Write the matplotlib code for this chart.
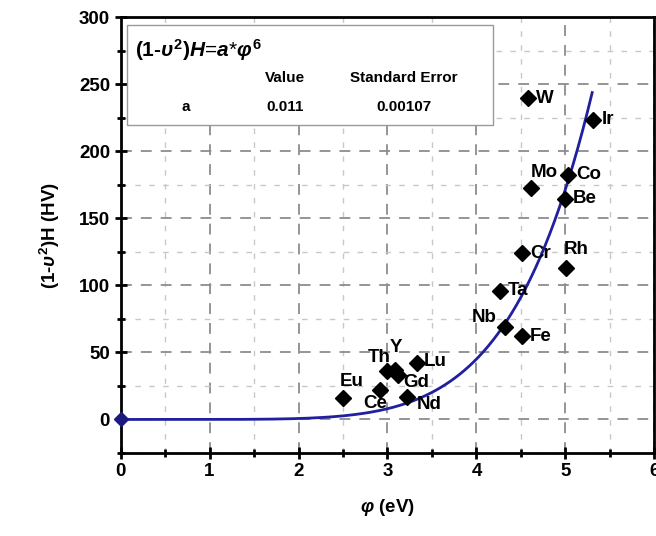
import numpy as np
import matplotlib.pyplot as plt
from matplotlib.ticker import MultipleLocator

plt.rcParams['font.family'] = ['Liberation Sans', 'DejaVu Sans']
plt.rcParams['mathtext.fontset'] = 'custom'
plt.rcParams['mathtext.rm'] = 'Liberation Sans:bold'
plt.rcParams['mathtext.bf'] = 'Liberation Sans:bold'
plt.rcParams['mathtext.it'] = 'Liberation Sans:italic:bold'

# element data: work function (eV) vs (1-v^2)H (HV)
elements = ['W', 'Ir', 'Co', 'Mo', 'Be', 'Cr', 'Rh', 'Ta', 'Nb', 'Fe',
            'Eu', 'Ce', 'Th', 'Y', 'Gd', 'Lu', 'Nd']
phi = [4.58, 5.31, 5.03, 4.61, 4.99, 4.51, 5.01, 4.26, 4.32, 4.51,
       2.50, 2.92, 3.00, 3.08, 3.12, 3.33, 3.22]
hv = [239.5, 223.5, 182.5, 172.5, 164.5, 124, 113, 96, 69, 62,
      16, 22, 36, 37, 33, 42, 17]

# fit parameters
fit_a = 0.011
fit_err = 0.00107
fit_pow = 6
fit_xmax = 5.3

# label offsets in points (dx, dy, ha)
offs = {
    'W': (6, 0, 'left'), 'Ir': (6, 0, 'left'), 'Co': (6, 0, 'left'),
    'Mo': (10, 11, 'center'), 'Be': (6, 0, 'left'), 'Cr': (6, 0, 'left'),
    'Rh': (7, 13, 'center'), 'Ta': (6, 0, 'left'), 'Nb': (-15, 7, 'center'),
    'Fe': (6, 0, 'left'), 'Eu': (6, 12, 'center'), 'Ce': (-4, -10, 'center'),
    'Th': (-6, 10, 'center'), 'Y': (1, 16, 'center'), 'Gd': (13, -5, 'center'),
    'Lu': (5, 1, 'left'), 'Nd': (16, -6, 'center'),
}

fig = plt.figure(figsize=(6.56, 5.36), dpi=100)
ax = fig.add_axes([0.1837, 0.1549, 0.814, 0.8129])

xx = np.linspace(0, fit_xmax, 300)
ax.plot(xx, fit_a * xx ** fit_pow, color='#1f1fa0', lw=2, zorder=3)
ax.plot([0], [0], 'D', color='#1a1a80', ms=7, zorder=4, clip_on=False)

ax.plot(phi, hv, 'D', color='black', ms=8, ls='none', zorder=5)
for name, x, y in zip(elements, phi, hv):
    dx, dy, ha = offs[name]
    ax.annotate(name, (x, y), xytext=(dx, dy), textcoords='offset points',
                ha=ha, va='center', fontsize=13.5, fontweight='bold', zorder=6)

ax.set_xlim(0, 6)
ax.set_ylim(-25, 300)
ax.xaxis.set_major_locator(MultipleLocator(1))
ax.xaxis.set_minor_locator(MultipleLocator(0.5))
ax.yaxis.set_major_locator(MultipleLocator(50))
ax.yaxis.set_minor_locator(MultipleLocator(25))
ax.grid(which='major', color='#8c8c8c', ls=(0, (6, 5)), lw=1.3)
ax.grid(which='minor', color='#c8c8c8', ls=(0, (4, 6)), lw=1)
ax.set_axisbelow(True)

for s in ax.spines.values():
    s.set_linewidth(2)
ax.tick_params(which='major', direction='inout', length=9, width=2,
               labelsize=13.5, pad=3)
ax.tick_params(which='minor', direction='inout', length=6, width=2)
for lab in ax.get_xticklabels() + ax.get_yticklabels():
    lab.set_fontweight('bold')

ax.set_xlabel(r'$\mathit{\varphi}$ (eV)', fontsize=13.5, fontweight='bold', labelpad=12)
ax.set_ylabel(r'(1-$\upsilon^2$)H (HV)', fontsize=13.5, fontweight='bold', labelpad=12)

# fit results box
box = plt.Rectangle((0.012, 0.752), 0.686, 0.23, transform=ax.transAxes,
                    facecolor='white', edgecolor='#999999', lw=1, zorder=7)
ax.add_patch(box)
ax.text(0.027, 0.925, r'$\mathit{(1\text{-}\upsilon^{2})H}$=$\mathit{a}$*$\mathit{\varphi}^6$',
        transform=ax.transAxes, fontsize=15, va='center', zorder=8)
cell = dict(transform=ax.transAxes, fontsize=11, fontweight='bold',
            ha='center', va='center', zorder=8)
ax.text(0.308, 0.86, 'Value', **cell)
ax.text(0.53, 0.86, 'Standard Error', **cell)
ax.text(0.123, 0.795, 'a', **cell)
ax.text(0.308, 0.795, f'{fit_a}', **cell)
ax.text(0.53, 0.795, f'{fit_err}', **cell)

fig.savefig('out.png', dpi=100)
